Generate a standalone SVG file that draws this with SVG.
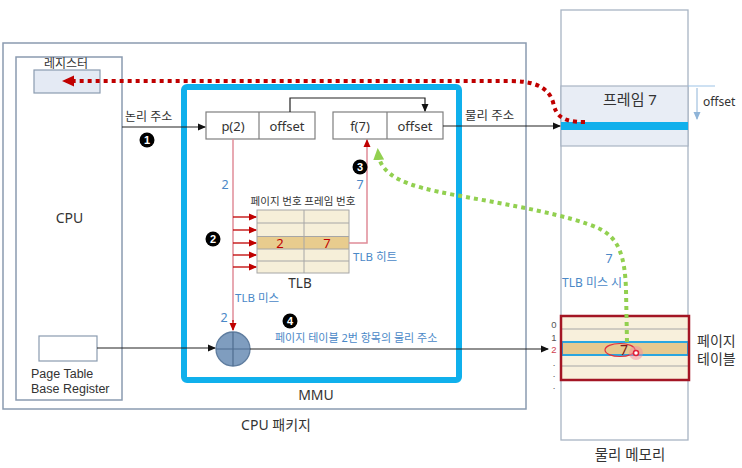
<svg xmlns="http://www.w3.org/2000/svg" width="742" height="468" viewBox="0 0 742 468">
<defs>
<style>
text{font-family:"Noto Sans","Noto Sans CJK KR",sans-serif;fill:#333}
.box{fill:#fff;stroke:#8a9bb0;stroke-width:1.5}
.reg{fill:#fff;stroke:#7f7f7f;stroke-width:1.2}
.blk{stroke:#222;stroke-width:1.2;fill:none}
.pink{stroke:#e08c98;stroke-width:1.5;fill:none}
.red{stroke:#c00000;stroke-width:1.3;fill:none}
.blue{fill:#4a88c7}
.step circle{fill:#000}
.step text{font-family:"Liberation Sans",sans-serif;font-weight:bold;font-size:11px;fill:#fff;text-anchor:middle}
.grid{stroke:#a6a6a6;stroke-width:1;fill:none}
.idx{font-family:"Liberation Sans",sans-serif;font-size:9.5px;fill:#555}
.lat{font-family:"Liberation Sans",sans-serif;font-size:12.5px}
</style>
<marker id="ab" markerWidth="8" markerHeight="8" refX="7" refY="4" orient="auto" markerUnits="userSpaceOnUse"><path d="M0,0.5 L8,4 L0,7.5 Z" fill="#111"/></marker>
<marker id="ar" markerWidth="8" markerHeight="8" refX="7" refY="4" orient="auto" markerUnits="userSpaceOnUse"><path d="M0,0.5 L8,4 L0,7.5 Z" fill="#c00000"/></marker>
<marker id="ard" markerWidth="12" markerHeight="12" refX="8" refY="6" orient="auto" markerUnits="userSpaceOnUse"><path d="M0,0.5 L12,6 L0,11.5 Z" fill="#c00000"/></marker>
<marker id="ag" markerWidth="12" markerHeight="12" refX="8" refY="6" orient="auto" markerUnits="userSpaceOnUse"><path d="M0,0.5 L12,6 L0,11.5 Z" fill="#92d050"/></marker>
<marker id="al" markerWidth="8" markerHeight="8" refX="7" refY="4" orient="auto" markerUnits="userSpaceOnUse"><path d="M0,0.5 L8,4 L0,7.5 Z" fill="#8fb4d8"/></marker>
</defs>
<rect width="742" height="468" fill="#fff"/>

<g id="cpu-package">
<rect class="box" x="3" y="43" width="523" height="366"/>
<text x="276" y="430" font-size="14" text-anchor="middle">CPU 패키지</text>
</g>

<g id="cpu">
<rect class="box" x="16" y="57" width="106" height="343"/>
<text x="69.5" y="223" font-size="14" text-anchor="middle">CPU</text>
</g>

<g id="register">
<rect x="34" y="70" width="66" height="23" fill="#e4eaf4" stroke="#8a9bb0" stroke-width="1.2"/>
<text x="66" y="68" font-size="12" text-anchor="middle">레지스터</text>
</g>

<g id="ptbr">
<rect x="39" y="336" width="58" height="25" fill="#fff" stroke="#8a9bb0" stroke-width="1.2"/>
<text class="lat" x="31" y="378">Page Table</text>
<text class="lat" x="31" y="393">Base Register</text>
</g>

<g id="mmu">
<rect x="184" y="87" width="275" height="293" rx="3" fill="none" stroke="#10b0ec" stroke-width="6"/>
<text x="316" y="400" font-size="14" text-anchor="middle">MMU</text>
</g>

<g id="logical-address">
<rect class="reg" x="206" y="112" width="109" height="27"/>
<line class="reg" x1="259" y1="112" x2="259" y2="139"/>
<text x="233" y="131" font-size="13" text-anchor="middle">p(2)</text>
<text x="287" y="131" font-size="13" text-anchor="middle">offset</text>
</g>

<g id="physical-address">
<rect class="reg" x="333" y="112" width="110" height="27"/>
<line class="reg" x1="387" y1="112" x2="387" y2="139"/>
<text x="360" y="131" font-size="13" text-anchor="middle">f(7)</text>
<text x="415" y="131" font-size="13" text-anchor="middle">offset</text>
</g>

<g id="tlb">
<text x="303" y="205" font-size="10.5" text-anchor="middle">페이지 번호 프레임 번호</text>
<rect x="257" y="210" width="92" height="63" fill="#f6efd9"/>
<rect x="257" y="236.5" width="92" height="12.5" fill="#e8cc8e"/>
<rect class="grid" x="257" y="210" width="92" height="63"/>
<path class="grid" d="M257 223H349M257 236.5H349M257 249H349M257 261H349M304 210V273"/>
<text x="280" y="247.5" font-size="13" text-anchor="middle" style="fill:#c00000">2</text>
<text x="327" y="247.5" font-size="13" text-anchor="middle" style="fill:#c00000">7</text>
<text x="300" y="288" font-size="13.5" text-anchor="middle">TLB</text>
</g>

<g id="adder">
<circle cx="233" cy="349" r="17" fill="#7f9dbf" stroke="#5f7d9f" stroke-width="1.3"/>
<path d="M216 349H250M233 332V366" stroke="#4f6d8f" stroke-width="1.2"/>
</g>

<g id="physical-memory">
<rect x="561" y="10" width="127" height="430" fill="#fff" stroke="#a8b4c4" stroke-width="1.3"/>
<text x="630" y="460" font-size="14.5" text-anchor="middle">물리 메모리</text>
</g>

<g id="frame7">
<rect x="561" y="86" width="127" height="60" fill="#e8edf5" stroke="#a8b4c4" stroke-width="1.2"/>
<rect x="561" y="122" width="127" height="8" fill="#10b0ec"/>
<text x="630" y="105" font-size="15" text-anchor="middle">프레임 7</text>
<line x1="688" y1="86" x2="715" y2="86" stroke="#9dc3e6" stroke-width="1"/>
<line x1="697" y1="88" x2="697" y2="119" stroke="#8fb4d8" stroke-width="1" marker-end="url(#al)"/>
<text x="703" y="106" font-size="12">offset</text>
</g>

<g id="page-table">
<rect x="561" y="316" width="128" height="64" fill="#f8f0dc"/>
<path class="grid" d="M561 329H689M561 366H689"/>
<rect x="562" y="342" width="126" height="13" fill="#e6c98f" stroke="#2aa6e0" stroke-width="2"/>
<rect x="561" y="316" width="128" height="64" fill="none" stroke="#a31524" stroke-width="2.5"/>
<text class="idx" x="554" y="328" text-anchor="middle">0</text>
<text class="idx" x="554" y="340.5" text-anchor="middle">1</text>
<text class="idx" x="554" y="353" text-anchor="middle" style="fill:#d04050">2</text>
<text class="idx" x="554" y="366" text-anchor="middle">.</text>
<text class="idx" x="554" y="377" text-anchor="middle">.</text>
<text class="idx" x="554" y="388.5" text-anchor="middle">.</text>
<ellipse cx="620" cy="350" rx="15" ry="6.5" fill="none" stroke="#e03040" stroke-width="1.2"/>
<text x="624" y="355" font-size="14" text-anchor="middle" style="fill:#7b1a1a">7</text>
<circle cx="636" cy="353" r="7" fill="#f48aa0" opacity="0.5"/>
<circle cx="636" cy="353" r="2.5" fill="#fff" stroke="#e0203a" stroke-width="1.5"/>
<text x="697" y="346" font-size="14">페이지</text>
<text x="697" y="364" font-size="14">테이블</text>
</g>

<g id="connectors">
<line class="blk" x1="122" y1="127" x2="205" y2="127" marker-end="url(#ab)"/>
<polyline class="blk" points="290,112 290,98 425,98 425,111" marker-end="url(#ab)"/>
<line class="blk" x1="443" y1="126" x2="560" y2="126" marker-end="url(#ab)"/>
<line class="blk" x1="97" y1="348" x2="215" y2="348" marker-end="url(#ab)"/>
<line class="blk" x1="250" y1="349" x2="548" y2="349" marker-end="url(#ab)"/>
<line class="pink" x1="233" y1="139" x2="233" y2="322"/>
<line x1="233" y1="320" x2="233" y2="330" stroke="#c00000" stroke-width="1.3" marker-end="url(#ar)"/>
<g class="red">
<line x1="233" y1="217" x2="256" y2="217" marker-end="url(#ar)"/>
<line x1="233" y1="230" x2="256" y2="230" marker-end="url(#ar)"/>
<line x1="233" y1="243" x2="256" y2="243" marker-end="url(#ar)"/>
<line x1="233" y1="255" x2="256" y2="255" marker-end="url(#ar)"/>
<line x1="233" y1="267" x2="256" y2="267" marker-end="url(#ar)"/>
</g>
<polyline class="pink" points="349,243 367,243 367,140" marker-end="url(#ar)"/>
<path d="M585 122 C562 122 556 116 553 102 C548 86 532 81 510 81 L66 81" fill="none" stroke="#c00000" stroke-width="4" stroke-dasharray="4 4" marker-end="url(#ard)"/>
<path d="M627 342 L626 290 C625 255 618 238 600 229 C570 215 510 205 455 195 C405 186 380 176 378 152" fill="none" stroke="#92d050" stroke-width="4" stroke-dasharray="4 4" marker-end="url(#ag)"/>
</g>

<g id="steps">
<g class="step"><circle cx="147" cy="140" r="7.5"/><text x="147" y="144">1</text></g>
<g class="step"><circle cx="213" cy="239" r="7.5"/><text x="213" y="243">2</text></g>
<g class="step"><circle cx="360" cy="167" r="7.5"/><text x="360" y="171">3</text></g>
<g class="step"><circle cx="290" cy="321" r="7.5"/><text x="290" y="325">4</text></g>
</g>

<g id="labels">
<text x="125" y="121" font-size="12">논리 주소</text>
<text x="465" y="120" font-size="12.5">물리 주소</text>
<text class="blue" x="225" y="189" font-size="12.5" text-anchor="middle">2</text>
<text class="blue" x="360" y="189" font-size="12.5" text-anchor="middle">7</text>
<text class="blue" x="224" y="322" font-size="12.5" text-anchor="middle">2</text>
<text class="blue" x="353" y="261" font-size="11.5">TLB 히트</text>
<text class="blue" x="235" y="302" font-size="11.5">TLB 미스</text>
<text class="blue" x="275" y="342" font-size="11">페이지 테이블 2번 항목의 물리 주소</text>
<text class="blue" x="609" y="263" font-size="12.5" text-anchor="middle">7</text>
<text class="blue" x="562" y="287" font-size="12">TLB 미스 시</text>
</g>
</svg>
